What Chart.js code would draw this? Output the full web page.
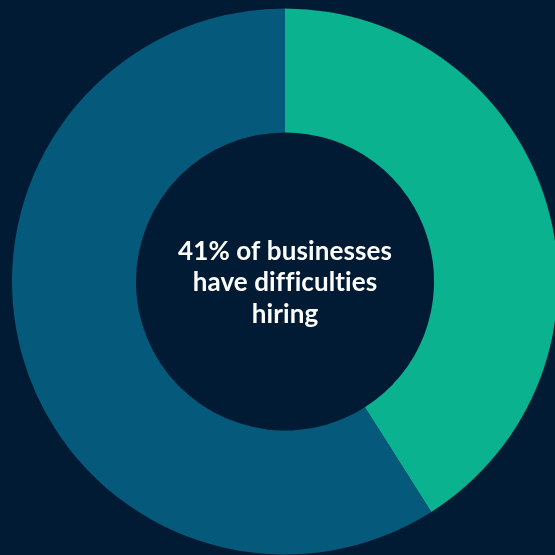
<!DOCTYPE html>
<html>
<head>
<meta charset="utf-8">
<script src="https://cdn.jsdelivr.net/npm/chart.js@4/dist/chart.umd.min.js"></script>
<style>
  html, body { margin: 0; padding: 0; background: #001b33; overflow: hidden; }
  #wrap { position: relative; width: 560px; height: 560px; }
</style>
</head>
<body>
<div id="wrap"><canvas id="graph"></canvas></div>
<script>
let etiquetas = ['Have difficulties hiring', 'No difficulties']
let valores = [41, 59]
let colores = ['#0ab28f', '#055a7c']
let textoCentro = ['41% of businesses', 'have difficulties', 'hiring']

// texto en el hueco del donut; el letterSpacing evita las ligaduras de Lato
const textoCentral = {
  id: 'textoCentral',
  afterDraw(chart) {
    const ctx = chart.ctx
    const arc = chart.getDatasetMeta(0).data[0]
    ctx.save()
    ctx.fillStyle = '#ffffff'
    ctx.font = 'bold 26px Lato'
    ctx.letterSpacing = '0.1px'
    ctx.textAlign = 'center'
    ctx.textBaseline = 'middle'
    textoCentro.forEach((linea, i) => {
      ctx.fillText(linea, arc.x, arc.y - 30 + i * 31.5)
    })
    ctx.restore()
  }
}

const data = {
  labels: etiquetas,
  datasets: [{
    data: valores,
    backgroundColor: colores,
    borderWidth: 0
  }]
}

const config = {
  type: 'doughnut',
  data: data,
  options: {
    responsive: false,
    animation: false,
    cutout: '54.6%',
    layout: { padding: { left: 12, top: 8, right: 2, bottom: 5 } },
    plugins: {
      legend: { display: false },
      tooltip: { enabled: false }
    }
  },
  plugins: [textoCentral]
}

const canvas = document.getElementById('graph')
canvas.width = 560
canvas.height = 560
const myChart = new Chart(canvas, config)
</script>
</body>
</html>
